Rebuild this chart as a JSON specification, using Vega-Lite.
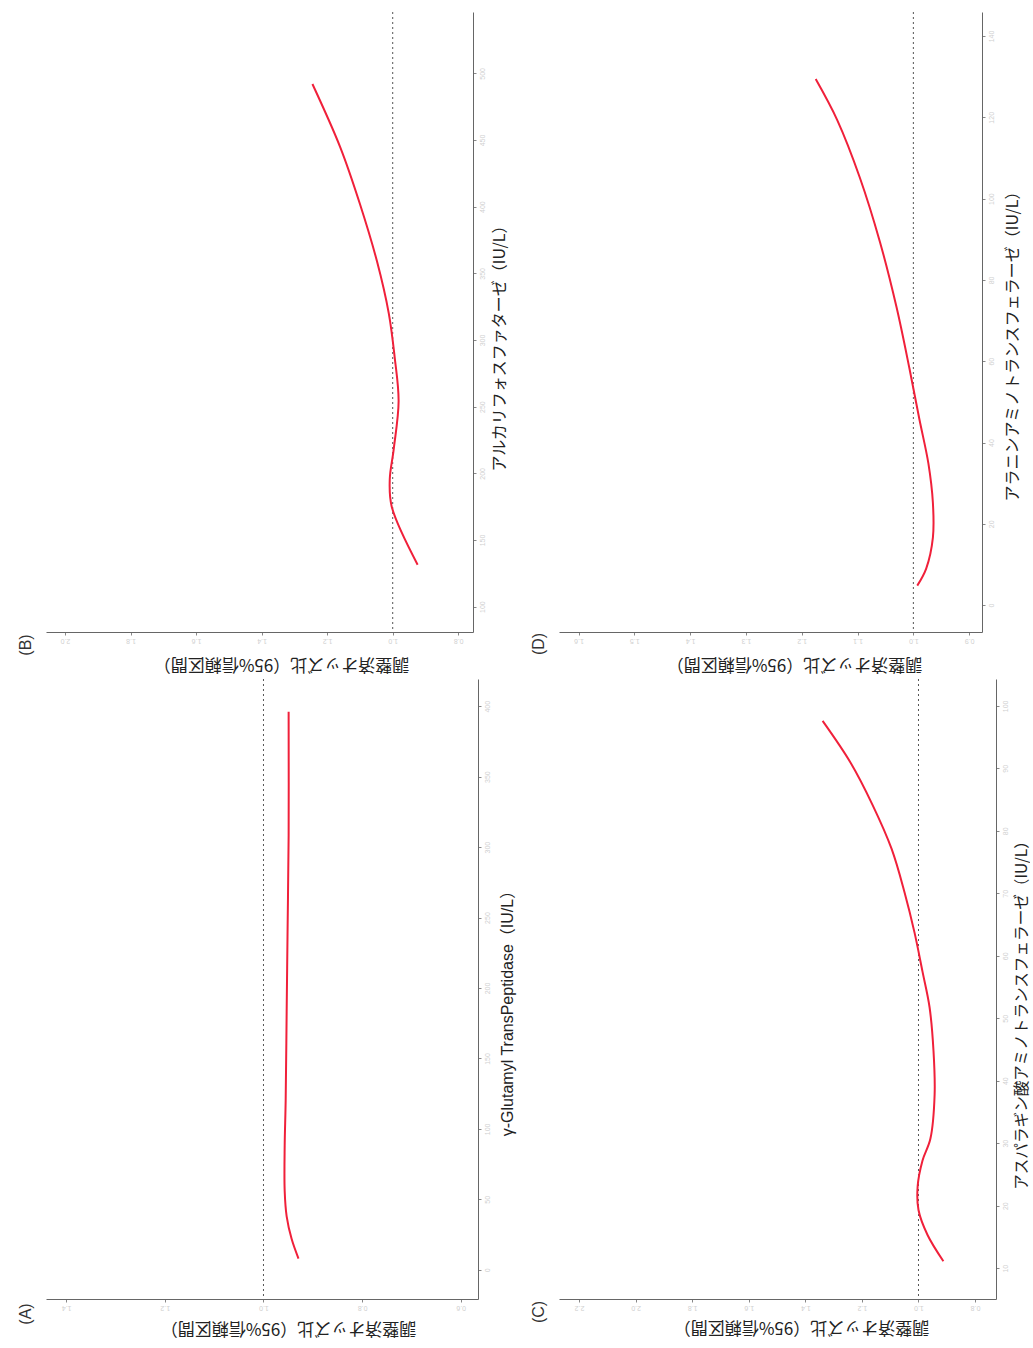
{
  "$schema": "https://vega.github.io/schema/vega-lite/v6.json",
  "background": "white",
  "padding": {"left": 17, "top": 11, "right": 0, "bottom": 8},
  "autosize": {"type": "pad"},
  "config": {
    "view": {"stroke": null},
    "axis": {"grid": false, "domainColor": "#666", "domainWidth": 1, "tickColor": "#888", "tickSize": 3, "labelColor": "#d0d0d0", "labelFontSize": 7, "labelFont": "Liberation Sans"},
    "title": {"font": "Liberation Sans", "fontSize": 16, "fontWeight": "normal", "color": "#333", "frame": "group"}
  },
  "datasets": {
    "A": [
      {"enzyme": 8, "or": 0.929}, {"enzyme": 22, "or": 0.943}, {"enzyme": 38, "or": 0.953}, {"enzyme": 56, "or": 0.957},
      {"enzyme": 88, "or": 0.957}, {"enzyme": 120, "or": 0.955}, {"enzyme": 183, "or": 0.953}, {"enzyme": 245, "or": 0.951},
      {"enzyme": 308, "or": 0.949}, {"enzyme": 396, "or": 0.949}
    ],
    "B": [
      {"enzyme": 131.5, "or": 0.924}, {"enzyme": 175, "or": 1.003}, {"enzyme": 195.5, "or": 1.009}, {"enzyme": 218, "or": 0.997},
      {"enzyme": 254, "or": 0.982}, {"enzyme": 287, "or": 0.994}, {"enzyme": 320, "or": 1.012}, {"enzyme": 359, "or": 1.048},
      {"enzyme": 402, "or": 1.1}, {"enzyme": 444.5, "or": 1.16}, {"enzyme": 492, "or": 1.245}
    ],
    "C": [
      {"enzyme": 11.1, "or": 0.912}, {"enzyme": 15.3, "or": 0.968}, {"enzyme": 19.3, "or": 1.0}, {"enzyme": 23.1, "or": 1.003},
      {"enzyme": 27.2, "or": 0.986}, {"enzyme": 30.7, "or": 0.958}, {"enzyme": 37.8, "or": 0.943}, {"enzyme": 44.8, "or": 0.947},
      {"enzyme": 51.8, "or": 0.961}, {"enzyme": 57.5, "or": 0.986}, {"enzyme": 63.7, "or": 1.014}, {"enzyme": 70.1, "or": 1.049},
      {"enzyme": 77.1, "or": 1.095}, {"enzyme": 84.2, "or": 1.163}, {"enzyme": 90.9, "or": 1.24}, {"enzyme": 97.6, "or": 1.339}
    ],
    "D": [
      {"enzyme": 4.8, "or": 0.993}, {"enzyme": 9.0, "or": 0.977}, {"enzyme": 16.6, "or": 0.965}, {"enzyme": 25.2, "or": 0.965},
      {"enzyme": 34.8, "or": 0.973}, {"enzyme": 45.6, "or": 0.989}, {"enzyme": 58.2, "or": 1.007}, {"enzyme": 73.2, "or": 1.03},
      {"enzyme": 89.4, "or": 1.06}, {"enzyme": 105.2, "or": 1.096}, {"enzyme": 119.2, "or": 1.136}, {"enzyme": 129.4, "or": 1.175}
    ],
    "ref": [{"or": 1}]
  },
  "columns": 2,
  "spacing": {"row": 47, "column": 81},
  "bounds": "flush",
  "concat": [
    {
      "width": 427, "height": 620,
      "title": {"text": "(B)", "orient": "left", "anchor": "start", "align": "center", "baseline": "middle", "angle": 270, "dx": -13, "offset": 4},
      "layer": [
        {"data": {"name": "ref"}, "mark": {"type": "rule", "color": "#555", "strokeDash": [2, 3], "strokeWidth": 1}, "encoding": {"x": {"field": "or", "type": "quantitative"}}},
        {"data": {"name": "B"}, "mark": {"type": "line", "color": "#f0203a", "strokeWidth": 2, "interpolate": "catmull-rom"},
         "encoding": {
           "x": {"field": "or", "type": "quantitative", "scale": {"domain": [0.755, 2.058], "reverse": true, "zero": false, "nice": false},
                 "axis": {"orient": "bottom", "values": [0.8, 0.9, 1.0, 1.1, 1.2, 1.3, 1.4, 1.5, 1.6, 1.7, 1.8, 1.9, 2.0], "format": ".1f", "labelAngle": 180,
                          "title": "調整済オッズ比（95%信頼区間）", "titleAngle": 180, "titleFont": "Noto Sans CJK JP", "titleFontSize": 17, "titleFontWeight": "normal", "titleColor": "#222", "titleX": 235, "titleY": 31, "titleAlign": "center", "titleBaseline": "middle"}},
           "y": {"field": "enzyme", "type": "quantitative", "scale": {"domain": [81, 546], "zero": false, "nice": false},
                 "axis": {"orient": "right", "values": [100, 150, 200, 250, 300, 350, 400, 450, 500], "format": "d", "labelAngle": 270, "labelAlign": "center", "labelBaseline": "middle", "labelPadding": 6,
                          "title": "アルカリフォスファターゼ（IU/L）", "titleAngle": 270, "titleFont": "Noto Sans CJK JP", "titleFontSize": 16, "titleFontWeight": "normal", "titleColor": "#222", "titleX": 26, "titleY": 332, "titleAlign": "center", "titleBaseline": "middle"}},
           "order": {"field": "enzyme"}
         }}
      ]
    },
    {
      "width": 423, "height": 620,
      "title": {"text": "(D)", "orient": "left", "anchor": "start", "align": "center", "baseline": "middle", "angle": 270, "dx": -12, "offset": 4},
      "layer": [
        {"data": {"name": "ref"}, "mark": {"type": "rule", "color": "#555", "strokeDash": [2, 3], "strokeWidth": 1}, "encoding": {"x": {"field": "or", "type": "quantitative"}}},
        {"data": {"name": "D"}, "mark": {"type": "line", "color": "#f0203a", "strokeWidth": 2, "interpolate": "catmull-rom"},
         "encoding": {
           "x": {"field": "or", "type": "quantitative", "scale": {"domain": [0.877, 1.635], "reverse": true, "zero": false, "nice": false},
                 "axis": {"orient": "bottom", "values": [0.9, 1.0, 1.1, 1.2, 1.3, 1.4, 1.5, 1.6], "format": ".1f", "labelAngle": 180,
                          "title": "調整済オッズ比（95%信頼区間）", "titleAngle": 180, "titleFont": "Noto Sans CJK JP", "titleFontSize": 17, "titleFontWeight": "normal", "titleColor": "#222", "titleX": 235, "titleY": 31, "titleAlign": "center", "titleBaseline": "middle"}},
           "y": {"field": "enzyme", "type": "quantitative", "scale": {"domain": [-6.6, 145.9], "zero": false, "nice": false},
                 "axis": {"orient": "right", "values": [0, 20, 40, 60, 80, 100, 120, 140], "format": "d", "labelAngle": 270, "labelAlign": "center", "labelBaseline": "middle", "labelPadding": 6,
                          "title": "アラニンアミノトランスフェラーゼ（IU/L）", "titleAngle": 270, "titleFont": "Noto Sans CJK JP", "titleFontSize": 16, "titleFontWeight": "normal", "titleColor": "#222", "titleX": 30, "titleY": 330, "titleAlign": "center", "titleBaseline": "middle"}},
           "order": {"field": "enzyme"}
         }}
      ]
    },
    {
      "width": 432, "height": 620,
      "title": {"text": "(A)", "orient": "left", "anchor": "start", "align": "center", "baseline": "middle", "angle": 270, "dx": -15, "offset": 4},
      "layer": [
        {"data": {"name": "ref"}, "mark": {"type": "rule", "color": "#555", "strokeDash": [2, 3], "strokeWidth": 1}, "encoding": {"x": {"field": "or", "type": "quantitative"}}},
        {"data": {"name": "A"}, "mark": {"type": "line", "color": "#f0203a", "strokeWidth": 2, "interpolate": "catmull-rom"},
         "encoding": {
           "x": {"field": "or", "type": "quantitative", "scale": {"domain": [0.565, 1.441], "reverse": true, "zero": false, "nice": false},
                 "axis": {"orient": "bottom", "values": [0.6, 0.8, 1.0, 1.2, 1.4], "format": ".1f", "labelAngle": 180,
                          "title": "調整済オッズ比（95%信頼区間）", "titleAngle": 180, "titleFont": "Noto Sans CJK JP", "titleFontSize": 17, "titleFontWeight": "normal", "titleColor": "#222", "titleX": 242, "titleY": 28, "titleAlign": "center", "titleBaseline": "middle"}},
           "y": {"field": "enzyme", "type": "quantitative", "scale": {"domain": [-20.7, 419.3], "zero": false, "nice": false},
                 "axis": {"orient": "right", "values": [0, 50, 100, 150, 200, 250, 300, 350, 400], "format": "d", "labelAngle": 270, "labelAlign": "center", "labelBaseline": "middle", "labelPadding": 6,
                          "title": "γ-Glutamyl TransPeptidase（IU/L）", "titleAngle": 270, "titleFont": "Liberation Sans, Noto Sans CJK JP", "titleFontSize": 16, "titleFontWeight": "normal", "titleColor": "#222", "titleX": 29, "titleY": 330, "titleAlign": "center", "titleBaseline": "middle"}},
           "order": {"field": "enzyme"}
         }}
      ]
    },
    {
      "width": 437, "height": 620,
      "title": {"text": "(C)", "orient": "left", "anchor": "start", "align": "center", "baseline": "middle", "angle": 270, "dx": -13, "offset": 4},
      "layer": [
        {"data": {"name": "ref"}, "mark": {"type": "rule", "color": "#555", "strokeDash": [2, 3], "strokeWidth": 1}, "encoding": {"x": {"field": "or", "type": "quantitative"}}},
        {"data": {"name": "C"}, "mark": {"type": "line", "color": "#f0203a", "strokeWidth": 2, "interpolate": "catmull-rom"},
         "encoding": {
           "x": {"field": "or", "type": "quantitative", "scale": {"domain": [0.726, 2.271], "reverse": true, "zero": false, "nice": false},
                 "axis": {"orient": "bottom", "values": [0.8, 0.9, 1.0, 1.1, 1.2, 1.3, 1.4, 1.5, 1.6, 1.7, 1.8, 1.9, 2.0, 2.1, 2.2], "format": ".1f", "labelAngle": 180,
                          "title": "調整済オッズ比（95%信頼区間）", "titleAngle": 180, "titleFont": "Noto Sans CJK JP", "titleFontSize": 17, "titleFontWeight": "normal", "titleColor": "#222", "titleX": 242, "titleY": 27, "titleAlign": "center", "titleBaseline": "middle"}},
           "y": {"field": "enzyme", "type": "quantitative", "scale": {"domain": [5.06, 104.3], "zero": false, "nice": false},
                 "axis": {"orient": "right", "values": [10, 20, 30, 40, 50, 60, 70, 80, 90, 100], "format": "d", "labelAngle": 270, "labelAlign": "center", "labelBaseline": "middle", "labelPadding": 6,
                          "title": "アスパラギン酸アミノトランスフェラーゼ（IU/L）", "titleAngle": 270, "titleFont": "Noto Sans CJK JP", "titleFontSize": 15.6, "titleFontWeight": "normal", "titleColor": "#222", "titleX": 25, "titleY": 332, "titleAlign": "center", "titleBaseline": "middle"}},
           "order": {"field": "enzyme"}
         }}
      ]
    }
  ]
}
